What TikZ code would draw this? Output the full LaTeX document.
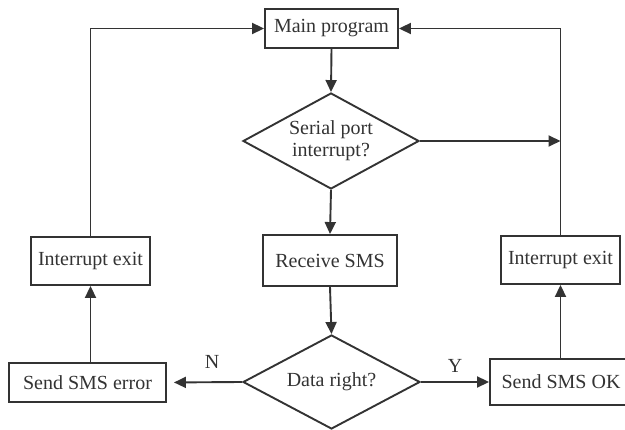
\documentclass[tikz,border=0pt]{standalone}
\usepackage{fontspec}
\setmainfont{Liberation Serif}
\usetikzlibrary{shapes.geometric,arrows.meta}
\begin{document}
\begin{tikzpicture}[x=1pt,y=-1pt,
  ink/.style={draw=black!80, line width=1.9pt},
  procbox/.style={ink, rectangle, inner sep=0pt, font=\fontsize{20}{22}\selectfont, text=black!80},
  decision/.style={ink, diamond, aspect=1.85, inner sep=0pt, align=center,
    font=\fontsize{20}{22}\selectfont, text=black!80},
  flow/.style={ink, -{Triangle[length=12pt,width=11pt]}},
  branch/.style={font=\fontsize{20}{22}\selectfont, text=black!80}]
\useasboundingbox (0,0) rectangle (625,430);

% process steps
\node[procbox, minimum width=133, minimum height=39] (main) at (331.5,28.5) {Main program};
\node[decision, minimum width=176, minimum height=96] (serial) at (331,141) {Serial port\\interrupt?};
\node[procbox, minimum width=134, minimum height=51] (recv) at (330,260.5) {Receive SMS};
\node[decision, minimum width=177, minimum height=94] (data) at (331.5,382) {Data right?};
\node[procbox, minimum width=119, minimum height=48] (exitL) at (90.5,261) {Interrupt exit};
\node[procbox, minimum width=119, minimum height=48] (exitR) at (560.5,260) {Interrupt exit};
\node[procbox, minimum width=157, minimum height=39] (err) at (87.5,382.5) {Send SMS error};
\node[procbox, minimum width=142, minimum height=46] (ok) at (561,382) {Send SMS OK};

% junction on the right return line
\coordinate (join) at (exitR.north |- serial.east);

% connectors
\draw[flow] (main.south) -- (serial.north);
\draw[flow] (serial.south) -- (recv.north);
\draw[flow] (recv.south) -- (data.north);
\draw[flow, shorten >=7pt] (data.west) -- (err.east);
\draw[flow] (data.east) -- (ok.west);
\draw[flow] (err.north -| exitL.south) -- (exitL.south);
\draw[flow] (ok.north -| exitR.south) -- (exitR.south);
\draw[flow] (exitL.north) |- (main.west);
\draw[flow] (exitR.north) |- (main.east);
\draw[flow] (serial.east) -- (join);

% branch labels
\node[branch] (lblN) at (212,362) {N};
\node[branch] (lblY) at (455,366) {Y};
\end{tikzpicture}
\end{document}
